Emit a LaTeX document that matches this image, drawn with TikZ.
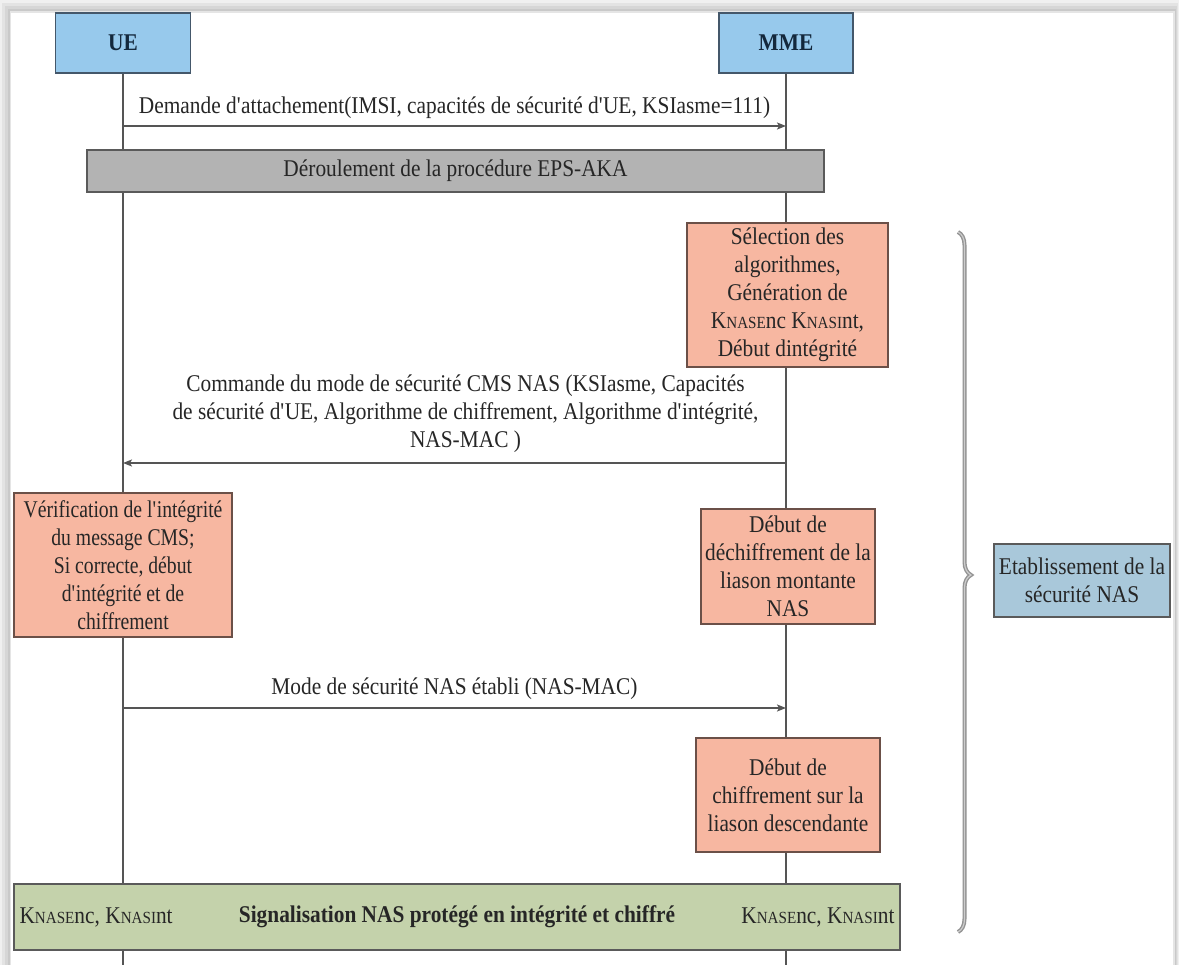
\documentclass[tikz,border=0pt]{standalone}
\usepackage{fontspec}
\setmainfont{Liberation Serif}[FakeStretch=0.89]
\newfontfamily\narrowserif{Liberation Serif}[FakeStretch=0.82]
\usetikzlibrary{arrows.meta,decorations.pathreplacing}

\definecolor{ink}{HTML}{262626}
\definecolor{lineink}{HTML}{555555}
\definecolor{actorfill}{HTML}{97C9EC}
\definecolor{actorline}{HTML}{44576A}
\definecolor{actorink}{HTML}{14283C}
\definecolor{akafill}{HTML}{B3B3B3}
\definecolor{actionfill}{HTML}{F7B7A1}
\definecolor{actionline}{HTML}{6B5048}
\definecolor{etabfill}{HTML}{A9C8DA}
\definecolor{nasfill}{HTML}{C4D2AB}
\definecolor{boxline}{HTML}{5A5A5A}

% K with a reduced-size subscript part, e.g. K_NASEnc
\newcommand\kk[1]{K{\fontsize{17}{17}\selectfont #1}}
\newcommand\q{\textquotesingle}

\pgfdeclarelayer{frame}
\pgfdeclarelayer{lines}
\pgfsetlayers{frame,lines,main}

\begin{document}
\begin{tikzpicture}[x=1pt,y=-1pt,
  every node/.style={text=ink, font=\fontsize{24}{28}\selectfont},
  actor/.style={draw=actorline, line width=1.3pt, fill=actorfill, text=actorink,
    minimum width=135pt, minimum height=60pt, font=\fontsize{24}{28}\selectfont\bfseries},
  band/.style={draw=boxline, line width=1.3pt, fill=#1, inner sep=0pt},
  action/.style={draw=actionline, line width=1.3pt, fill=actionfill, align=center, inner sep=0pt},
  lifeline/.style={draw=lineink, line width=1.4pt},
  msg/.style={draw=lineink, line width=1.4pt, -{Stealth[length=9pt,width=7pt,inset=2pt]}},
  lbl/.style={above, yshift=#1, align=center},
  lbl/.default=3pt,
  bracestyle/.style={draw=gray!85, line width=1.4pt, double=gray!40, double distance=1.2pt}
]
\useasboundingbox (0,0) rectangle (1179,965);

% soft page frame
\begin{pgfonlayer}{frame}
  \fill[gray!12] (0,0) rectangle (1179,965);
  \fill[gray!22] (2,3) rectangle (1178,965);
  \fill[gray!32] (5,6) rectangle (1177,965);
  \fill[gray!42] (8,9) rectangle (1176,965);
  \fill[gray!20] (10,11) rectangle (1175,965);
  \fill[white] (11,13) rectangle (1173,965);
\end{pgfonlayer}

% actors
\node[actor] (ue) at (123,43) {UE};
\node[actor, minimum width=134pt] (mme) at (786,43) {MME};
\coordinate (ue-end) at (123,965);
\coordinate (mme-end) at (786,965);

\begin{pgfonlayer}{lines}
  \draw[lifeline] (ue.south) -- (ue-end);
  \draw[lifeline] (mme.south) -- (mme-end);
\end{pgfonlayer}

% attach request
\coordinate (ue-m1) at (123,126);
\coordinate (mme-m1) at (786,126);
\draw[msg] (ue-m1) -- node[lbl] {Demande d\q attachement(IMSI, capacités de sécurité d\q UE, KSIasme=111)} (mme-m1);

% EPS-AKA
\node[band=akafill, minimum width=737pt, minimum height=42pt] (aka) at (455.5,171)
  {Déroulement de la procédure EPS-AKA};

% algorithm selection at the MME
\node[action, minimum width=201pt, minimum height=144pt] (sel) at (787.5,295)
  {Sélection des\\algorithmes,\\Génération de\\\kk{NASE}nc \kk{NASI}nt,\\Début dintégrité};

% security mode command
\coordinate (mme-m2) at (786,463);
\coordinate (ue-m2) at (123,463);
\draw[msg] (mme-m2) -- node[lbl=6pt, xshift=11pt]
  {Commande du mode de sécurité CMS NAS (KSIasme, Capacités\\de sécurité d\q UE, Algorithme de chiffrement, Algorithme d\q intégrité,\\NAS-MAC )} (ue-m2);

% checks on both sides
\node[action, minimum width=218pt, minimum height=144pt, font=\fontsize{24}{28}\narrowserif] (ver) at (123,565)
  {Vérification de l\q intégrité\\du message CMS;\\Si correcte, début\\d\q intégrité et de\\chiffrement};
\node[action, minimum width=174pt, minimum height=115pt] (dech) at (788,566.5)
  {Début de\\déchiffrement de la\\liason montante\\NAS};

% security mode complete
\coordinate (ue-m3) at (123,708);
\coordinate (mme-m3) at (786,708);
\draw[msg] (ue-m3) -- node[lbl=4pt] {Mode de sécurité NAS établi (NAS-MAC)} (mme-m3);

\node[action, minimum width=184pt, minimum height=114pt] (chif) at (788,795)
  {Début de\\chiffrement sur la\\liason descendante};

% protected signalling
\node[band=nasfill, minimum width=886pt, minimum height=66pt] (nas) at (457,917) {};
\node[anchor=west, inner sep=0pt] (nas-ue) at ([xshift=6pt]nas.west) {\kk{NASE}nc, \kk{NASI}nt};
\node[font=\fontsize{24}{28}\selectfont\bfseries] (nas-txt) at (457,917)
  {Signalisation NAS protégé en intégrité et chiffré};
\node[anchor=east, inner sep=0pt] (nas-mme) at ([xshift=-6pt]nas.east) {\kk{NASE}nc, \kk{NASI}nt};

% grouping brace and its caption
\coordinate (br-top) at (958,232);
\coordinate (br-bot) at (958,932);
\draw[bracestyle, decorate, decoration={brace, amplitude=13pt, aspect=0.49}] (br-top) -- (br-bot);
\node[draw=boxline, line width=1.3pt, fill=etabfill, align=center, inner sep=0pt,
  minimum width=176pt, minimum height=73pt] (etab) at (1082,580.5)
  {Etablissement de la\\sécurité NAS};
\end{tikzpicture}
\end{document}
